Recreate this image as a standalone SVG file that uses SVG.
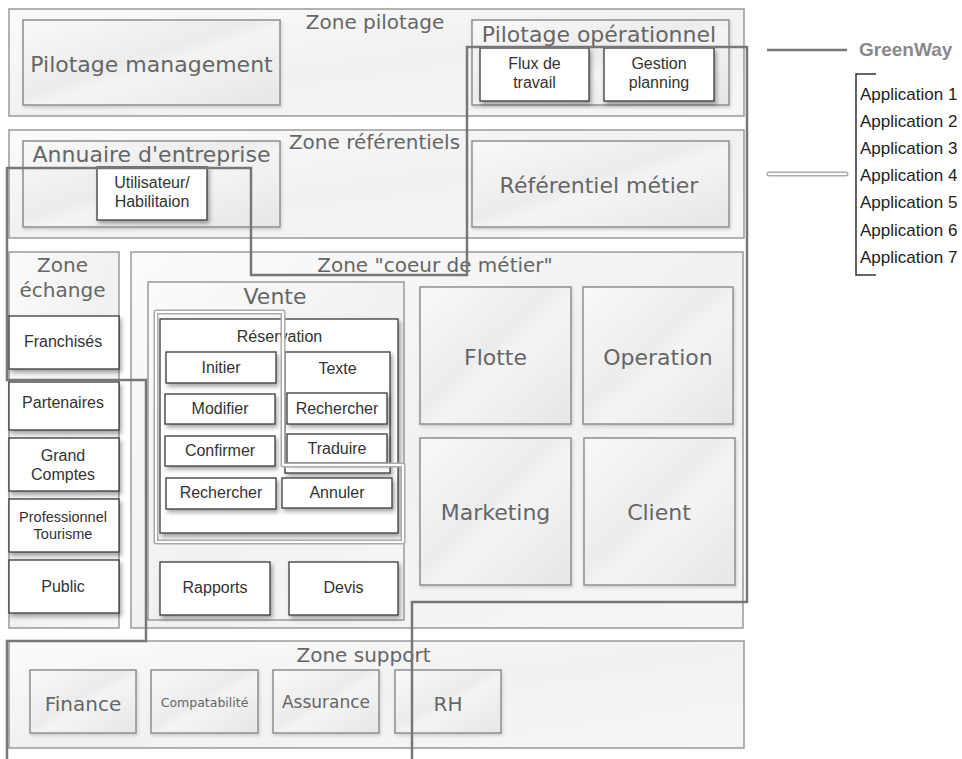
<svg xmlns="http://www.w3.org/2000/svg" width="962" height="759" viewBox="0 0 962 759">
<defs>
<style>
.zone{fill:url(#gz);stroke:#9a9a9a;stroke-width:1.5}
.gbox{fill:url(#gb);stroke:#8f8f8f;stroke-width:1.5;filter:url(#shl)}
.wbox{fill:#fff;stroke:#3a3a3a;stroke-width:1.3;filter:url(#sh)}
.zt{font-family:"DejaVu Sans",Verdana,sans-serif;font-size:20px;fill:#666;text-anchor:middle}
.bt{font-family:"DejaVu Sans",Verdana,sans-serif;font-size:22px;fill:#666;text-anchor:middle}
.lt{font-family:"Liberation Sans",Arial,sans-serif;font-size:16px;fill:#333;text-anchor:middle}
.app{font-family:"Liberation Sans",Arial,sans-serif;font-size:17px;fill:#222}
.gw{fill:none;stroke:#777;stroke-width:2.5}
.dlo{fill:none;stroke:#aaa;stroke-width:5;stroke-linejoin:round;stroke-linecap:round}
.dli{fill:none;stroke:#fff;stroke-width:2;stroke-linejoin:round;stroke-linecap:round}
</style>
<linearGradient id="gz" x1="0" y1="0" x2="1" y2="1">
<stop offset="0" stop-color="#fbfbfb"/><stop offset="0.5" stop-color="#f1f1f1"/><stop offset="1" stop-color="#f6f6f6"/>
</linearGradient>
<linearGradient id="gb" x1="0" y1="0" x2="1" y2="1">
<stop offset="0" stop-color="#f9f9f9"/><stop offset="0.45" stop-color="#ececec"/><stop offset="0.55" stop-color="#f4f4f4"/><stop offset="1" stop-color="#e6e6e6"/>
</linearGradient>
<filter id="sh" x="-10%" y="-10%" width="130%" height="150%">
<feDropShadow dx="2" dy="3" stdDeviation="2" flood-color="#000" flood-opacity="0.35"/>
</filter>
<filter id="shl" x="-10%" y="-10%" width="130%" height="150%">
<feDropShadow dx="1" dy="2" stdDeviation="1.5" flood-color="#000" flood-opacity="0.15"/>
</filter>
</defs>
<rect width="962" height="759" fill="#fff"/>

<g id="zone-pilotage">
<rect class="zone" x="9" y="9" width="735" height="107"/>
<text class="zt" x="375" y="29">Zone pilotage</text>
</g>
<g id="pilotage-management">
<rect class="gbox" x="23" y="20" width="257" height="85"/>
<text class="bt" x="151.5" y="72">Pilotage management</text>
</g>
<g id="pilotage-operationnel">
<rect class="gbox" x="472" y="20" width="257" height="85"/>
<text class="bt" x="599" y="42">Pilotage opérationnel</text>
</g>
<g id="flux-de-travail">
<rect class="wbox" x="480" y="48" width="109" height="53"/>
<text class="lt" x="534.5" y="69">Flux de</text>
<text class="lt" x="534.5" y="88">travail</text>
</g>
<g id="gestion-planning">
<rect class="wbox" x="604" y="48" width="110" height="53"/>
<text class="lt" x="659" y="69">Gestion</text>
<text class="lt" x="659" y="88">planning</text>
</g>

<g id="zone-referentiels">
<rect class="zone" x="9" y="130" width="735" height="108"/>
<text class="zt" x="374.5" y="149">Zone référentiels</text>
</g>
<g id="annuaire-entreprise">
<rect class="gbox" x="23" y="141" width="257" height="86"/>
<text class="bt" x="151.5" y="162">Annuaire d'entreprise</text>
</g>
<g id="utilisateur-habilitation">
<rect class="wbox" x="97" y="167" width="110" height="53"/>
<text class="lt" x="152" y="188">Utilisateur/</text>
<text class="lt" x="152" y="207">Habilitaion</text>
</g>
<g id="referentiel-metier">
<rect class="gbox" x="472" y="141" width="257" height="86"/>
<text class="bt" x="599" y="193">Référentiel métier</text>
</g>

<g id="zone-echange">
<rect class="zone" x="9" y="252" width="110" height="376"/>
<text class="zt" x="62.5" y="272">Zone</text>
<text class="zt" x="62.5" y="297">échange</text>
</g>
<g id="franchises">
<rect class="wbox" x="9" y="316" width="110" height="53"/>
<text class="lt" x="63" y="347">Franchisés</text>
</g>
<g id="partenaires">
<rect class="wbox" x="9" y="382" width="110" height="48"/>
<text class="lt" x="63" y="408">Partenaires</text>
</g>
<g id="grand-comptes">
<rect class="wbox" x="9" y="438" width="110" height="53"/>
<text class="lt" x="63" y="461">Grand</text>
<text class="lt" x="63" y="480">Comptes</text>
</g>
<g id="professionnel-tourisme">
<rect class="wbox" x="9" y="499" width="110" height="53"/>
<text class="lt" x="63" y="522" style="font-size:14.5px">Professionnel</text>
<text class="lt" x="63" y="539" style="font-size:14.5px">Tourisme</text>
</g>
<g id="public">
<rect class="wbox" x="9" y="560" width="110" height="53"/>
<text class="lt" x="63" y="592">Public</text>
</g>

<g id="zone-coeur-de-metier">
<rect class="zone" x="131" y="252" width="612" height="376"/>
<text class="zt" x="435" y="272">Zone "coeur de métier"</text>
</g>
<g id="vente">
<rect class="zone" x="148" y="282" width="256" height="338"/>
<text class="bt" x="275" y="304">Vente</text>
</g>
<g id="reservation">
<rect class="wbox" x="160" y="319" width="238" height="214"/>
<text class="lt" x="279.5" y="342">Réservation</text>
</g>
<g id="initier">
<rect class="wbox" x="166" y="352" width="110" height="31"/>
<text class="lt" x="221" y="373">Initier</text>
</g>
<g id="modifier">
<rect class="wbox" x="165" y="394" width="110" height="30"/>
<text class="lt" x="220" y="414">Modifier</text>
</g>
<g id="confirmer">
<rect class="wbox" x="165" y="436" width="110" height="30"/>
<text class="lt" x="220" y="456">Confirmer</text>
</g>
<g id="rechercher-reservation">
<rect class="wbox" x="166" y="478" width="110" height="31"/>
<text class="lt" x="221" y="498">Rechercher</text>
</g>
<g id="texte">
<rect class="wbox" x="285" y="352" width="105" height="121"/>
<text class="lt" x="337.5" y="374">Texte</text>
</g>
<g id="rechercher-texte">
<rect class="wbox" x="287" y="393" width="100" height="31"/>
<text class="lt" x="337" y="414">Rechercher</text>
</g>
<g id="traduire">
<rect class="wbox" x="287" y="434" width="100" height="29"/>
<text class="lt" x="337" y="454">Traduire</text>
</g>
<g id="annuler">
<rect class="wbox" x="282" y="478" width="110" height="30"/>
<text class="lt" x="337" y="498">Annuler</text>
</g>
<g id="rapports">
<rect class="wbox" x="160" y="562" width="110" height="53"/>
<text class="lt" x="215" y="593">Rapports</text>
</g>
<g id="devis">
<rect class="wbox" x="289" y="562" width="109" height="53"/>
<text class="lt" x="343.5" y="593">Devis</text>
</g>
<g id="flotte">
<rect class="gbox" x="420" y="287" width="151" height="137"/>
<text class="bt" x="495.5" y="365">Flotte</text>
</g>
<g id="operation">
<rect class="gbox" x="583" y="287" width="150" height="137"/>
<text class="bt" x="658" y="365">Operation</text>
</g>
<g id="marketing">
<rect class="gbox" x="420" y="438" width="151" height="147"/>
<text class="bt" x="495.5" y="520">Marketing</text>
</g>
<g id="client">
<rect class="gbox" x="584" y="438" width="151" height="147"/>
<text class="bt" x="659" y="520">Client</text>
</g>

<g id="zone-support">
<rect class="zone" x="9" y="641" width="735" height="107"/>
<text class="zt" x="363.5" y="662">Zone support</text>
</g>
<g id="finance">
<rect class="gbox" x="30" y="670" width="106" height="63"/>
<text class="zt" x="83" y="711">Finance</text>
</g>
<g id="compatabilite">
<rect class="gbox" x="151" y="670" width="107" height="63"/>
<text class="zt" x="204.5" y="707" style="font-size:12.5px">Compatabilité</text>
</g>
<g id="assurance">
<rect class="gbox" x="273" y="670" width="106" height="63"/>
<text class="zt" x="326" y="708" style="font-size:17px">Assurance</text>
</g>
<g id="rh">
<rect class="gbox" x="395" y="670" width="106" height="63"/>
<text class="zt" x="448" y="711">RH</text>
</g>

<g id="connectors">
<path class="gw" d="M7,759 V641 H146 V380 H7 V168 H251 V275 H467 V47 H747 V602 H412 V759"/>
<path class="dlo" d="M156,312 H283 V465 H403 V542 H156 Z"/>
<path class="dli" d="M156,312 H283 V465 H403 V542 H156 Z"/>
</g>

<g id="legend">
<line x1="767" y1="50" x2="847" y2="50" stroke="#777" stroke-width="2.5"/>
<text x="859" y="56" style="font-family:'Liberation Sans',Arial,sans-serif;font-size:19px;font-weight:bold;fill:#888">GreenWay</text>
<line class="dlo" x1="769" y1="174" x2="846" y2="174"/>
<line class="dli" x1="769" y1="174" x2="846" y2="174"/>
<path d="M876,74 H856 V275 H876" fill="none" stroke="#333" stroke-width="1.5"/>
<text class="app" x="860" y="100">Application 1</text>
<text class="app" x="860" y="127">Application 2</text>
<text class="app" x="860" y="154">Application 3</text>
<text class="app" x="860" y="181">Application 4</text>
<text class="app" x="860" y="208">Application 5</text>
<text class="app" x="860" y="236">Application 6</text>
<text class="app" x="860" y="263">Application 7</text>
</g>
</svg>
